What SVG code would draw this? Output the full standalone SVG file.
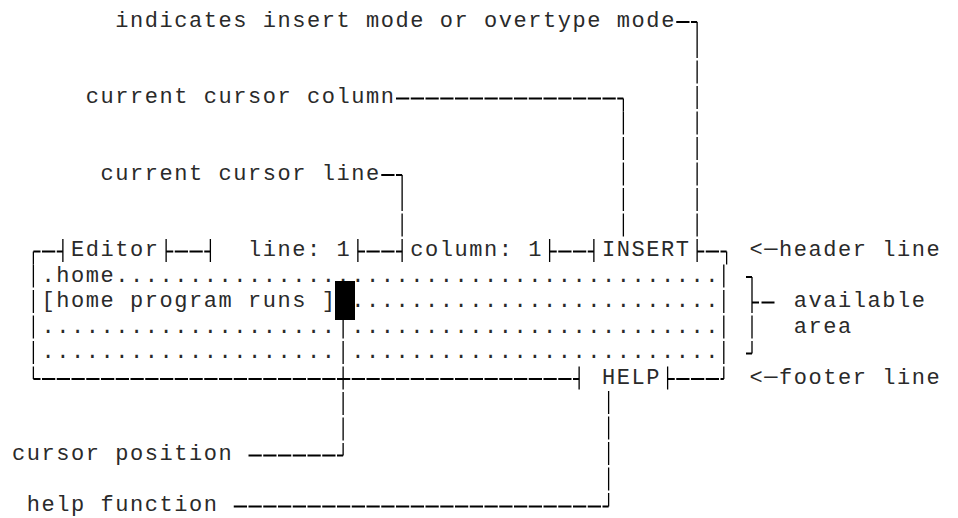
<svg xmlns="http://www.w3.org/2000/svg" width="958" height="518" viewBox="0 0 958 518">
<style>
text{font-family:"Liberation Mono","Courier New",monospace;font-size:22px;letter-spacing:1.55px;fill:#2a2a2a;white-space:pre}
.h{fill:none;stroke:#000;stroke-width:1.9;stroke-dasharray:13.25 1.5}
.hc{fill:none;stroke:#000;stroke-width:1.9;stroke-dasharray:13.25 1.5;stroke-dashoffset:6.125}
.v{fill:none;stroke:#000;stroke-width:1.3;stroke-dasharray:23 2.5}
.s{fill:none;stroke:#000;stroke-width:1.3}
</style>
<rect width="958" height="518" fill="#fff"/>

<g id="label-insert-mode"><text x="115.3" y="26.7">indicates insert mode or overtype mode</text></g>
<g id="label-cursor-column"><text x="85.8" y="103.2">current cursor column</text></g>
<g id="label-cursor-line"><text x="100.5" y="179.7">current cursor line</text></g>

<g id="editor-window">
  <path class="s" d="M33.375 251.5V264.5"/>
  <path class="v" d="M33.375 264.5V379"/>
  <path class="hc" d="M33.375 251.5H62.875M166.125 251.5H210.375M357.875 251.5H402.125M549.625 251.5H593.875M697.125 251.5H726.625"/>
  <path class="s" d="M62.875 239V262M166.125 239V262M210.375 239V262M357.875 239V262M402.125 239V262M549.625 239V262M593.875 239V262M697.125 239V262"/>
  <path class="s" d="M726.625 251.5V264.5"/>
  <path class="v" d="M723.8 264.5V379"/>
  <path class="hc" d="M33.375 379H579.125M667.625 379H723.8"/>
  <path class="s" d="M579.125 366.5V389.5M667.625 366.5V389.5"/>
  <text x="71" y="256.2">Editor</text>
  <text x="248" y="256.2">line: 1</text>
  <text x="410.3" y="256.2">column: 1</text>
  <text x="602" y="256.2">INSERT</text>
  <text x="41.5" y="281.7">.home.........................................</text>
  <text x="41.5" y="307.2">[home program runs ]</text>
  <text x="351.3" y="307.2">.........................</text>
  <text x="41.5" y="332.7">....................</text>
  <text x="351.3" y="332.7">.........................</text>
  <text x="41.5" y="358.2">....................</text>
  <text x="351.3" y="358.2">.........................</text>
  <rect id="cursor" x="335" y="281" width="20" height="39" fill="#000"/>
  <text x="602" y="383.7">HELP</text>
</g>

<g id="label-header-line"><text x="749.5" y="256.2">&lt;─header line</text></g>
<g id="label-available-area"><text x="793.8" y="307.2">available</text><text x="793.8" y="332.7">area</text></g>
<g id="label-footer-line"><text x="749.5" y="383.7">&lt;─footer line</text></g>
<g id="label-cursor-position"><text x="12" y="460.2">cursor position</text></g>
<g id="label-help-function"><text x="26.8" y="511.2">help function</text></g>

<g id="connectors">
  <g id="conn-insert-mode">
    <path class="h" d="M676.25 22H697.125"/>
    <path class="s" d="M697.125 22V35"/>
    <path class="v" d="M697.125 35V236.5"/>
  </g>
  <g id="conn-cursor-column">
    <path class="h" d="M396 98.5H623.375"/>
    <path class="s" d="M623.375 98.5V111.5"/>
    <path class="v" d="M623.375 111.5V236.5"/>
  </g>
  <g id="conn-cursor-line">
    <path class="h" d="M381.25 175H402.125"/>
    <path class="s" d="M402.125 175V188"/>
    <path class="v" d="M402.125 188V236.5"/>
  </g>
  <g id="conn-available-area">
    <path class="h" d="M746 277H752M746 353.5H752"/>
    <path class="s" d="M752 277V290"/>
    <path class="v" d="M752 290V353.5"/>
    <path fill="none" stroke="#000" stroke-width="1.9" stroke-dasharray="7 2.5 13 30" d="M752 302.5H774.5"/>
  </g>
  <g id="conn-cursor-position">
    <path class="v" d="M343.125 315.5V455.5"/>
    <path class="h" d="M248.5 455.5H343.125"/>
  </g>
  <g id="conn-help-function">
    <path class="v" d="M608.625 391V506.5"/>
    <path class="h" d="M233.75 506.5H608.625"/>
  </g>
</g>
</svg>
